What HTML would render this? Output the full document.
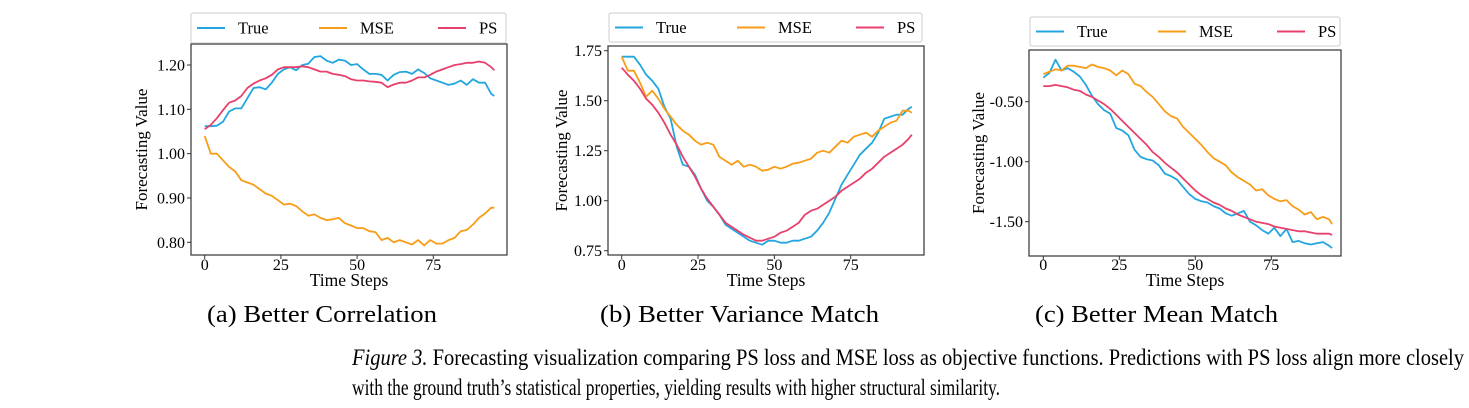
<!DOCTYPE html>
<html><head><meta charset="utf-8"><style>
html,body{margin:0;padding:0;background:#fff;}
svg{display:block;font-family:"Liberation Serif",serif;}
</style></head><body>
<svg id="fig" width="1469" height="408" viewBox="0 0 1469 408">
<g id="charts"></g>
<text x="207" y="322" font-size="24" textLength="230" lengthAdjust="spacingAndGlyphs">(a) Better Correlation</text>
<text x="600" y="322" font-size="24" textLength="279" lengthAdjust="spacingAndGlyphs">(b) Better Variance Match</text>
<text x="1035" y="322" font-size="24" textLength="243" lengthAdjust="spacingAndGlyphs">(c) Better Mean Match</text>
<text x="352" y="365" font-size="23" textLength="1112" lengthAdjust="spacingAndGlyphs"><tspan font-style="italic">Figure 3.</tspan> Forecasting visualization comparing PS loss and MSE loss as objective functions. Predictions with PS loss align more closely</text>
<text x="352" y="395" font-size="23" textLength="648" lengthAdjust="spacingAndGlyphs">with the ground truth’s statistical properties, yielding results with higher structural similarity.</text>
</svg>
<script>
const steps=[0,2,4,6,8,10,12,14,16,18,20,22,24,26,28,30,32,34,36,38,40,42,44,46,48,50,52,54,56,58,60,62,64,66,68,70,72,74,76,78,80,82,84,86,88,90,92,94,95];
const xTicks=[0,25,50,75];
const seriesNames=["True","MSE","PS"];
const trueA=[1.062,1.062,1.063,1.072,1.095,1.102,1.102,1.125,1.148,1.15,1.145,1.16,1.18,1.19,1.195,1.188,1.2,1.203,1.218,1.22,1.21,1.205,1.212,1.21,1.2,1.202,1.19,1.18,1.18,1.178,1.165,1.178,1.184,1.185,1.18,1.19,1.182,1.17,1.165,1.16,1.155,1.158,1.165,1.155,1.168,1.16,1.16,1.135,1.13];
const mseA=[1.04,1.0,1.0,0.985,0.97,0.96,0.94,0.935,0.93,0.92,0.91,0.905,0.895,0.885,0.887,0.882,0.87,0.86,0.863,0.855,0.85,0.852,0.855,0.843,0.838,0.832,0.832,0.825,0.823,0.805,0.81,0.8,0.805,0.8,0.795,0.805,0.793,0.805,0.797,0.797,0.805,0.81,0.825,0.828,0.84,0.855,0.865,0.878,0.878];
const psA=[1.055,1.065,1.08,1.098,1.115,1.12,1.13,1.148,1.158,1.165,1.17,1.178,1.19,1.195,1.195,1.195,1.197,1.195,1.19,1.185,1.185,1.18,1.178,1.175,1.168,1.165,1.165,1.163,1.162,1.16,1.15,1.156,1.16,1.16,1.165,1.172,1.172,1.178,1.185,1.19,1.195,1.2,1.202,1.205,1.205,1.208,1.205,1.195,1.188];
const trueB=[1.72,1.72,1.72,1.68,1.63,1.6,1.56,1.47,1.41,1.27,1.18,1.17,1.13,1.06,1.0,0.97,0.93,0.88,0.86,0.84,0.82,0.8,0.79,0.78,0.8,0.8,0.79,0.79,0.8,0.8,0.81,0.82,0.85,0.89,0.94,1.01,1.08,1.13,1.18,1.23,1.26,1.29,1.34,1.41,1.42,1.43,1.43,1.46,1.47];
const mseB=[1.72,1.65,1.65,1.59,1.52,1.55,1.51,1.46,1.42,1.38,1.35,1.33,1.3,1.28,1.29,1.28,1.22,1.2,1.18,1.2,1.17,1.18,1.17,1.15,1.155,1.17,1.16,1.17,1.185,1.19,1.2,1.21,1.24,1.25,1.24,1.27,1.3,1.29,1.32,1.33,1.34,1.32,1.35,1.37,1.39,1.4,1.45,1.45,1.44];
const psB=[1.665,1.63,1.6,1.56,1.51,1.48,1.44,1.39,1.33,1.28,1.22,1.17,1.12,1.06,1.01,0.97,0.93,0.89,0.87,0.85,0.83,0.815,0.8,0.8,0.81,0.82,0.84,0.85,0.87,0.89,0.93,0.95,0.96,0.98,1.0,1.02,1.05,1.07,1.09,1.11,1.14,1.16,1.19,1.22,1.24,1.26,1.28,1.31,1.33];
const trueC=[-0.30,-0.26,-0.15,-0.24,-0.22,-0.25,-0.29,-0.36,-0.45,-0.52,-0.57,-0.6,-0.72,-0.74,-0.78,-0.9,-0.96,-0.98,-0.99,-1.03,-1.1,-1.12,-1.15,-1.21,-1.27,-1.31,-1.33,-1.34,-1.37,-1.39,-1.43,-1.45,-1.43,-1.41,-1.5,-1.53,-1.57,-1.6,-1.55,-1.62,-1.56,-1.67,-1.66,-1.68,-1.69,-1.68,-1.67,-1.7,-1.72];
const mseC=[-0.27,-0.25,-0.23,-0.24,-0.2,-0.2,-0.21,-0.22,-0.19,-0.21,-0.22,-0.24,-0.28,-0.24,-0.27,-0.35,-0.37,-0.42,-0.46,-0.52,-0.58,-0.62,-0.64,-0.71,-0.76,-0.81,-0.86,-0.92,-0.97,-1.0,-1.03,-1.09,-1.13,-1.16,-1.19,-1.24,-1.23,-1.28,-1.31,-1.33,-1.32,-1.37,-1.4,-1.44,-1.42,-1.48,-1.46,-1.48,-1.52];
const psC=[-0.37,-0.37,-0.36,-0.37,-0.38,-0.4,-0.41,-0.44,-0.46,-0.49,-0.52,-0.56,-0.61,-0.66,-0.71,-0.76,-0.81,-0.86,-0.92,-0.96,-1.01,-1.05,-1.09,-1.14,-1.19,-1.24,-1.28,-1.31,-1.34,-1.36,-1.39,-1.41,-1.44,-1.46,-1.48,-1.5,-1.51,-1.52,-1.54,-1.55,-1.56,-1.57,-1.58,-1.58,-1.59,-1.6,-1.6,-1.6,-1.61];
const yTicksA=[0.8,0.9,1.0,1.1,1.2];
const yTicksB=[0.75,1.0,1.25,1.5,1.75];
const yTicksC=[-0.5,-1.0,-1.5];

const COLORS=["#22a6e0","#f89d18","#e8406c"];
const NS="http://www.w3.org/2000/svg";
const root=document.getElementById('charts');
function mk(tag,attrs,parent){const e=document.createElementNS(NS,tag);for(const k in attrs)e.setAttribute(k,attrs[k]);parent.appendChild(e);return e;}

const panels=[
 {id:'a',box:[191,44,507,255],x0:204.7,x75:433.3,ya:[1.2,65],yb:[0.8,242.3],ticks:yTicksA,fmt:v=>v.toFixed(2),series:[trueA,mseA,psA],leg:[191,13,506,43],ylab:147},
 {id:'b',box:[608,46,924,255],x0:621.7,x75:850.7,ya:[1.75,50.7],yb:[0.75,250.7],ticks:yTicksB,fmt:v=>v.toFixed(2),series:[trueB,mseB,psB],leg:[609,13,922,42],ylab:567},
 {id:'c',box:[1029,50,1341,256],x0:1043.3,x75:1271.3,ya:[-0.5,101.7],yb:[-1.5,221.7],ticks:yTicksC,fmt:v=>v.toFixed(2),series:[trueC,mseC,psC],leg:[1030,17,1340,46],ylab:984}
];
panels.forEach(p=>{
 const g=mk('g',{},root);
 
 
 const xs=t=>p.x0+t*(p.x75-p.x0)/75;
 const ys=v=>p.ya[1]+(v-p.ya[0])*(p.yb[1]-p.ya[1])/(p.yb[0]-p.ya[0]);
 const [l,t,r,b]=p.box;
 const cx=(l+r)/2;
 p.series.forEach((arr,si)=>{
  const d=arr.map((v,i)=>(i?'L':'M')+xs(steps[i]).toFixed(1)+','+ys(v).toFixed(1)).join('');
  const path=mk('path',{d:d,fill:'none',stroke:COLORS[si],'stroke-width':1.8,'stroke-linejoin':'round'},g);
  
  
 });
 const frame=mk('rect',{x:l,y:t,width:r-l,height:b-t,fill:'none',stroke:'#333','stroke-width':1.2},g);
 
 
 xTicks.forEach(v=>{
  const x=xs(v);
  mk('line',{x1:x,x2:x,y1:b,y2:b+4,stroke:'#333','stroke-width':1},g);
  const tx=mk('text',{x:x,y:270,'font-size':16,'text-anchor':'middle'},g);
  tx.textContent=v;
  
  
 });
 p.ticks.forEach(v=>{
  const y=ys(v);
  mk('line',{x1:l-4,x2:l,y1:y,y2:y,stroke:'#333','stroke-width':1},g);
  const ty=mk('text',{x:l-6,y:y+5.5,'font-size':16,'text-anchor':'end'},g);
  ty.textContent=p.fmt(v);
  
  
 });
 const xl=mk('text',{x:cx,y:286,'font-size':17.5,'text-anchor':'middle'},g);
 xl.textContent='Time Steps';
 
 
 const ym=(t+b)/2;
 const yl=mk('text',{x:p.ylab,y:ym,'font-size':17,'text-anchor':'middle',transform:`rotate(-90 ${p.ylab} ${ym})`},g);
 yl.textContent='Forecasting Value';
 
 
 const [ll,lt,lr,lb]=p.leg;
 const lg=mk('g',{},g);
 
 
 mk('rect',{x:ll,y:lt,width:lr-ll,height:lb-lt,rx:2,fill:'#fff',stroke:'#ccc','stroke-width':1},lg);
 const offs=[6,128,247];
 const ly=(lt+lb)/2;
 seriesNames.forEach((n,si)=>{
  const ex=ll+offs[si];
  const en=mk('g',{},lg);
  
  
  mk('line',{x1:ex,x2:ex+28,y1:ly,y2:ly,stroke:COLORS[si],'stroke-width':2},en);
  const tt=mk('text',{x:ex+41,y:ly+5.5,'font-size':16.5},en);
  tt.textContent=n;
 });
});
</script>
</body></html>
